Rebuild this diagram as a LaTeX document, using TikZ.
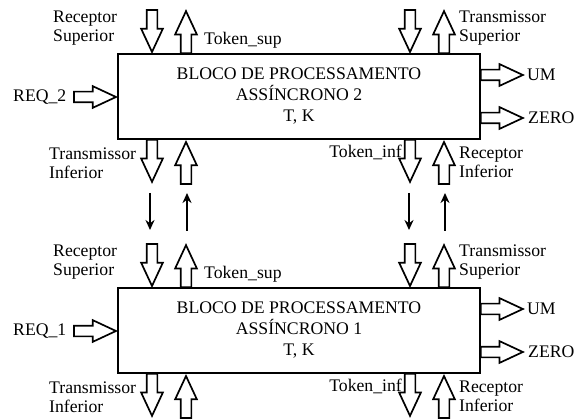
\documentclass[tikz,border=0pt]{standalone}
\usepackage{fontspec}
\setmainfont{Liberation Serif}
\usetikzlibrary{shapes.arrows,arrows.meta}
\begin{document}
\begin{tikzpicture}[x=1pt,y=-1pt,
  harrow/.style={single arrow, draw, line width=1.7pt, minimum height=42pt, minimum width=20pt,
    single arrow head extend=5.5pt, single arrow tip angle=50, inner xsep=0pt, inner ysep=4.5pt},
  hdown/.style={harrow, rotate=-90},
  hup/.style={harrow, rotate=90},
  hright/.style={harrow},
  block/.style={draw, line width=1.8pt, minimum width=362pt, minimum height=85pt, align=center,
    font=\fontsize{17.7}{21}\selectfont},
  lbl/.style={inner sep=0pt, align=left, font=\fontsize{17.7}{19}\selectfont},
  thin/.style={line width=1.7pt, -{Stealth[length=10pt,width=9pt]}}
]
\useasboundingbox (0,0) rectangle (583,419);
\foreach \n/\o in {2/0,1/234}{
  \node[block] (B\n) at (299,96.5+\o) {BLOCO DE PROCESSAMENTO\\ASSÍNCRONO \n\\T, K};
  % top arrows
  \node[hdown, anchor=tip] (RS\n) at (152,54+\o) {};
  \node[hup, anchor=tail] (TKS\n) at (186,54+\o) {};
  \node[hdown, anchor=tip] (RS2\n) at (410,54+\o) {};
  \node[hup, anchor=tail] (TS\n) at (444,54+\o) {};
  % bottom arrows
  \node[hdown, anchor=tail] (TI\n) at (152,139+\o) {};
  \node[hup, anchor=tip] (TU\n) at (186,140+\o) {};
  \node[hdown, anchor=tail] (TKI\n) at (410,139+\o) {};
  \node[hup, anchor=tip] (RI\n) at (444,140+\o) {};
  % side arrows
  \node[hright, anchor=tip] (REQ\n) at (118,97+\o) {};
  \node[hright, anchor=tail] (UM\n) at (480,75+\o) {};
  \node[hright, anchor=tail] (ZE\n) at (480,118+\o) {};
  % labels
  \node[lbl, anchor=west] (lRS\n) at (53,28.5+\o) {Receptor\\Superior};
  \node[lbl, anchor=west] (lTKS\n) at (204,40+\o) {Token\_sup};
  \node[lbl, anchor=west] (lTS\n) at (459,28.5+\o) {Transmissor\\Superior};
  \node[lbl, anchor=west] (lREQ\n) at (13,97+\o) {REQ\_\n};
  \node[lbl, anchor=west] (lUM\n) at (527,75+\o) {UM};
  \node[lbl, anchor=west] (lZE\n) at (528,118+\o) {ZERO};
  \node[lbl, anchor=west] (lTI\n) at (49,163.5+\o) {Transmissor\\Inferior};
  \node[lbl, anchor=east] (lTKI\n) at (402,152+\o) {Token\_inf};
  \node[lbl, anchor=west] (lRI\n) at (459,162+\o) {Receptor\\Inferior};
}
\coordinate (a1) at (150,193);
\coordinate (a2) at (150,230);
\coordinate (b1) at (187,231);
\coordinate (b2) at (187,193);
\coordinate (c1) at (409,193);
\coordinate (c2) at (409,230);
\coordinate (d1) at (445,231);
\coordinate (d2) at (445,193);
\draw[thin] (a1) -- (a2);
\draw[thin] (b1) -- (b2);
\draw[thin] (c1) -- (c2);
\draw[thin] (d1) -- (d2);
\end{tikzpicture}
\end{document}
